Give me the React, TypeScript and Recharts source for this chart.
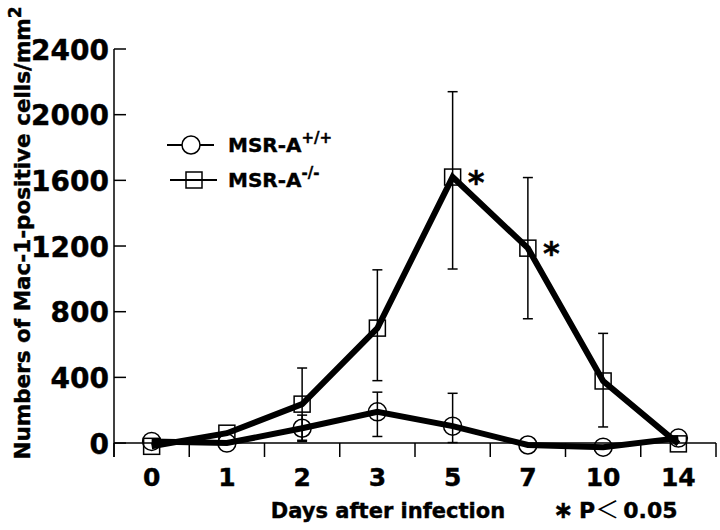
import React from "react";
import {
  LineChart,
  Line,
  XAxis,
  YAxis,
  ErrorBar,
  ReferenceLine,
  LabelList,
  Legend,
} from "recharts";

// days after infection (categories, evenly spaced)
const days = ["0", "1", "2", "3", "5", "7", "10", "14"];
const yTicks = [0, 400, 800, 1200, 1600, 2000, 2400];

// MSR-A+/+ (circles)
const wildType = [10, 0, 90, 190, 103, -12, -25, 30];
const wildTypeErr = [null, null, [80, 80], [150, 120], [100, 200], null, null, null];

// MSR-A-/- (squares)
const knockout = [-20, 60, 237, 700, 1620, 1187, 378, -5];
const knockoutErr = [null, null, [220, 220], [320, 355], [560, 520], [430, 430], [280, 290], null];

// * P < 0.05
const significance = ["", "", "", "", "*", "*", "", ""];

const data = days.map((day, i) => ({
  day,
  wt: wildType[i],
  wtErr: wildTypeErr[i],
  ko: knockout[i],
  koErr: knockoutErr[i],
  sig: significance[i],
}));

const W = 720;
const H = 530;
const PLOT_LEFT = 114;
const PLOT_RIGHT = 716;
const BAND = (PLOT_RIGHT - PLOT_LEFT) / days.length;
const FONT = "'DejaVu Sans', sans-serif";
const heavy = { fontFamily: FONT, fontWeight: "bold" as const, fill: "#000", stroke: "#000", strokeWidth: 0.4 };

const XTick = (props: any) => {
  const { x, y, payload, index } = props;
  const last = index === days.length - 1;
  return (
    <g>
      <line x1={x - BAND / 2} x2={x - BAND / 2} y1={y - 14} y2={y} stroke="#000" strokeWidth={1.5} />
      {last && (
        <line x1={x + BAND / 2} x2={x + BAND / 2} y1={y - 14} y2={y} stroke="#000" strokeWidth={1.5} />
      )}
      <text x={x} y={y + 29} textAnchor="middle" fontSize={25} {...heavy}>
        {payload.value}
      </text>
    </g>
  );
};

const YTick = (props: any) => {
  const { x, y, payload } = props;
  return (
    <g>
      <line x1={x} x2={x + 12} y1={y} y2={y} stroke="#000" strokeWidth={1.5} />
      <text x={x - 5} y={y + 1} textAnchor="end" dominantBaseline="central" fontSize={28} {...heavy}>
        {payload.value}
      </text>
    </g>
  );
};

const YLabel = () => (
  <text transform="translate(30,233) rotate(-90)" textAnchor="middle" fontSize={21.5} {...heavy}>
    Numbers of Mac-1-positive cells/mm
    <tspan fontSize={17} dy={-9}>
      2
    </tspan>
  </text>
);

const XLabel = () => (
  <g>
    <text x={388} y={518} textAnchor="middle" fontSize={21} {...heavy}>
      Days after infection
    </text>
    <text x={553} y={518} fontSize={22} {...heavy}>
      <tspan fontSize={24}>∗</tspan>
      <tspan dx={6}>P</tspan>
      <tspan fontFamily="'Noto Sans CJK JP', sans-serif" fontWeight="normal" strokeWidth={0} fontSize={24}>
        ＜
      </tspan>
      <tspan dx={4}>0.05</tspan>
    </text>
  </g>
);

const SquareDot = (props: any) => {
  const { cx, cy, index } = props;
  return (
    <rect key={`sq-${index}`} x={cx - 8} y={cy - 8} width={16} height={16} fill="none" stroke="#000" strokeWidth={1.5} />
  );
};

const CircleDot = (props: any) => {
  const { cx, cy, index } = props;
  return <circle key={`ci-${index}`} cx={cx} cy={cy} r={9} fill="none" stroke="#000" strokeWidth={1.5} />;
};

const Star = (props: any) => {
  const { x, y, value, index } = props;
  if (!value) return null;
  return (
    <text key={`st-${index}`} x={x + 15} y={y + 16} fontSize={32} {...heavy}>
      {value}
    </text>
  );
};

const legendItems = [
  { label: "MSR-A", sup: "+/+", shape: "circle" },
  { label: "MSR-A", sup: "-/-", shape: "square" },
];

const LegendContent = () => (
  <svg width={220} height={75}>
    {legendItems.map((item, i) => {
      const cy = i === 0 ? 20 : 55;
      const cx = i === 0 ? 31 : 34;
      return (
        <g key={item.sup}>
          <line x1={cx - 24} x2={cx + 23} y1={cy} y2={cy} stroke="#000" strokeWidth={2} />
          {item.shape === "circle" ? (
            <circle cx={cx} cy={cy} r={9} fill="#fff" stroke="#000" strokeWidth={1.5} />
          ) : (
            <rect x={cx - 8} y={cy - 8} width={16} height={16} fill="none" stroke="#000" strokeWidth={1.5} />
          )}
          <text x={68} y={cy + 7} fontSize={20} {...heavy}>
            {item.label}
            <tspan fontSize={15} dy={-9}>
              {item.sup}
            </tspan>
          </text>
        </g>
      );
    })}
  </svg>
);

export default function App() {
  return (
    <div style={{ position: "absolute", left: 0, top: 0, width: W, height: H, background: "#fff" }}>
      <LineChart width={W} height={H} data={data} margin={{ top: 49, right: W - PLOT_RIGHT, bottom: 0, left: 0 }}>
        <XAxis
          dataKey="day"
          scale="band"
          height={73}
          axisLine={false}
          tickLine={false}
          tickSize={0}
          tickMargin={0}
          interval={0}
          tick={<XTick />}
          label={{ content: () => <XLabel /> }}
        />
        <YAxis
          width={PLOT_LEFT}
          domain={[-85, 2400]}
          ticks={yTicks}
          interval={0}
          axisLine={{ stroke: "#000", strokeWidth: 1.5 }}
          tickLine={false}
          tickSize={0}
          tickMargin={0}
          tick={<YTick />}
          label={{ content: () => <YLabel /> }}
        />
        <ReferenceLine y={0} stroke="#000" strokeWidth={1.5} />
        <Legend
          layout="vertical"
          align="center"
          verticalAlign="middle"
          content={() => <LegendContent />}
          wrapperStyle={{ position: "absolute", left: 160, top: 125, width: 220, height: 75 }}
        />
        <Line
          name="MSR-A+/+"
          dataKey="wt"
          type="linear"
          stroke="#000"
          strokeWidth={6}
          dot={CircleDot}
          activeDot={false}
          isAnimationActive={false}
        >
          <ErrorBar dataKey="wtErr" width={5} stroke="#000" strokeWidth={1.5} direction="y" />
        </Line>
        <Line
          name="MSR-A-/-"
          dataKey="ko"
          type="linear"
          stroke="#000"
          strokeWidth={6}
          dot={SquareDot}
          activeDot={false}
          isAnimationActive={false}
        >
          <ErrorBar dataKey="koErr" width={5} stroke="#000" strokeWidth={1.5} direction="y" />
          <LabelList dataKey="sig" content={Star} />
        </Line>
      </LineChart>
    </div>
  );
}
